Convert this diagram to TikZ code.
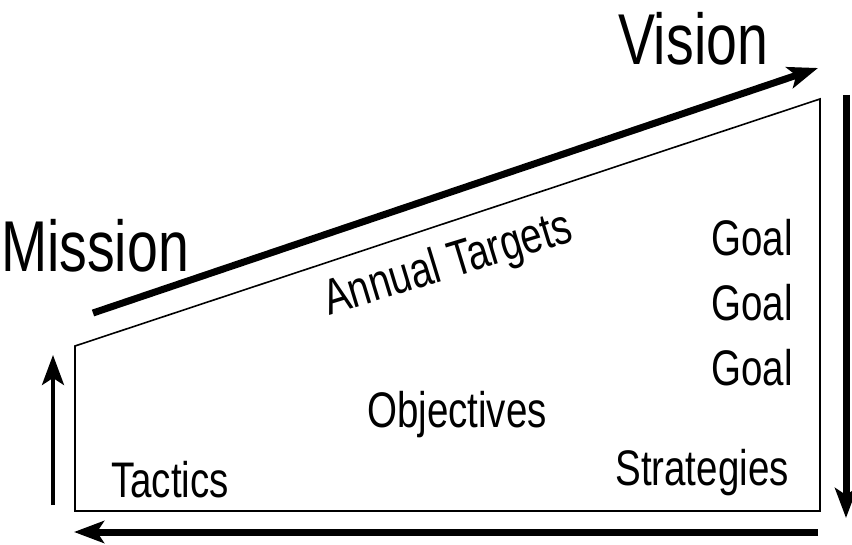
\documentclass[tikz,border=0pt]{standalone}
\usepackage{fontspec}
\setmainfont{Liberation Sans}[FakeStretch=0.77]
\usetikzlibrary{arrows.meta}

\begin{document}
\begin{tikzpicture}[x=1pt, y=-1pt,
    bigword/.style={font=\fontsize{72}{80}\selectfont, inner sep=0pt, anchor=base},
    word/.style={font=\fontsize{50}{58}\selectfont, inner sep=0pt, anchor=base},
    flow/.style={line width=7pt, -{Stealth[length=30pt, width=22pt, inset=7pt]}}]
    \useasboundingbox (0, 0) rectangle (852, 545);
    % the trapezoid
    \draw[line width=1.6pt, line join=miter] (75, 346) -- (820, 99) -- (820, 511) -- (75, 511) -- cycle;
    % texts
    \node[bigword] (vision) at (693, 65) {Vision};
    \node[bigword] (mission) at (95, 272) {Mission};
    \node[word, rotate=17] (targets) at (452, 278) {Annual Targets};
    \foreach \y [count=\i] in {256, 321, 386} {
        \node[word] (goal\i) at (752, \y) {Goal};
    }
    \node[word] (objectives) at (457, 428) {Objectives};
    \node[word] (tactics) at (170, 497) {Tactics};
    \node[word] (strategies) at (702, 485) {Strategies};
    % the arrows round it
    \coordinate (mstart) at (93, 313);
    \coordinate (vend) at (818, 68);
    \coordinate (rtop) at (846, 95);
    \coordinate (rend) at (846, 518);
    \coordinate (bstart) at (818, 532);
    \coordinate (bend) at (74, 532);
    \coordinate (lstart) at (53, 505);
    \coordinate (lend) at (53, 355);
    \draw[flow] (mstart) -- (vend);
    \draw[flow] (rtop) -- (rend);
    \draw[flow] (bstart) -- (bend);
    \draw[flow, line width=4pt] (lstart) -- (lend);
\end{tikzpicture}
\end{document}
